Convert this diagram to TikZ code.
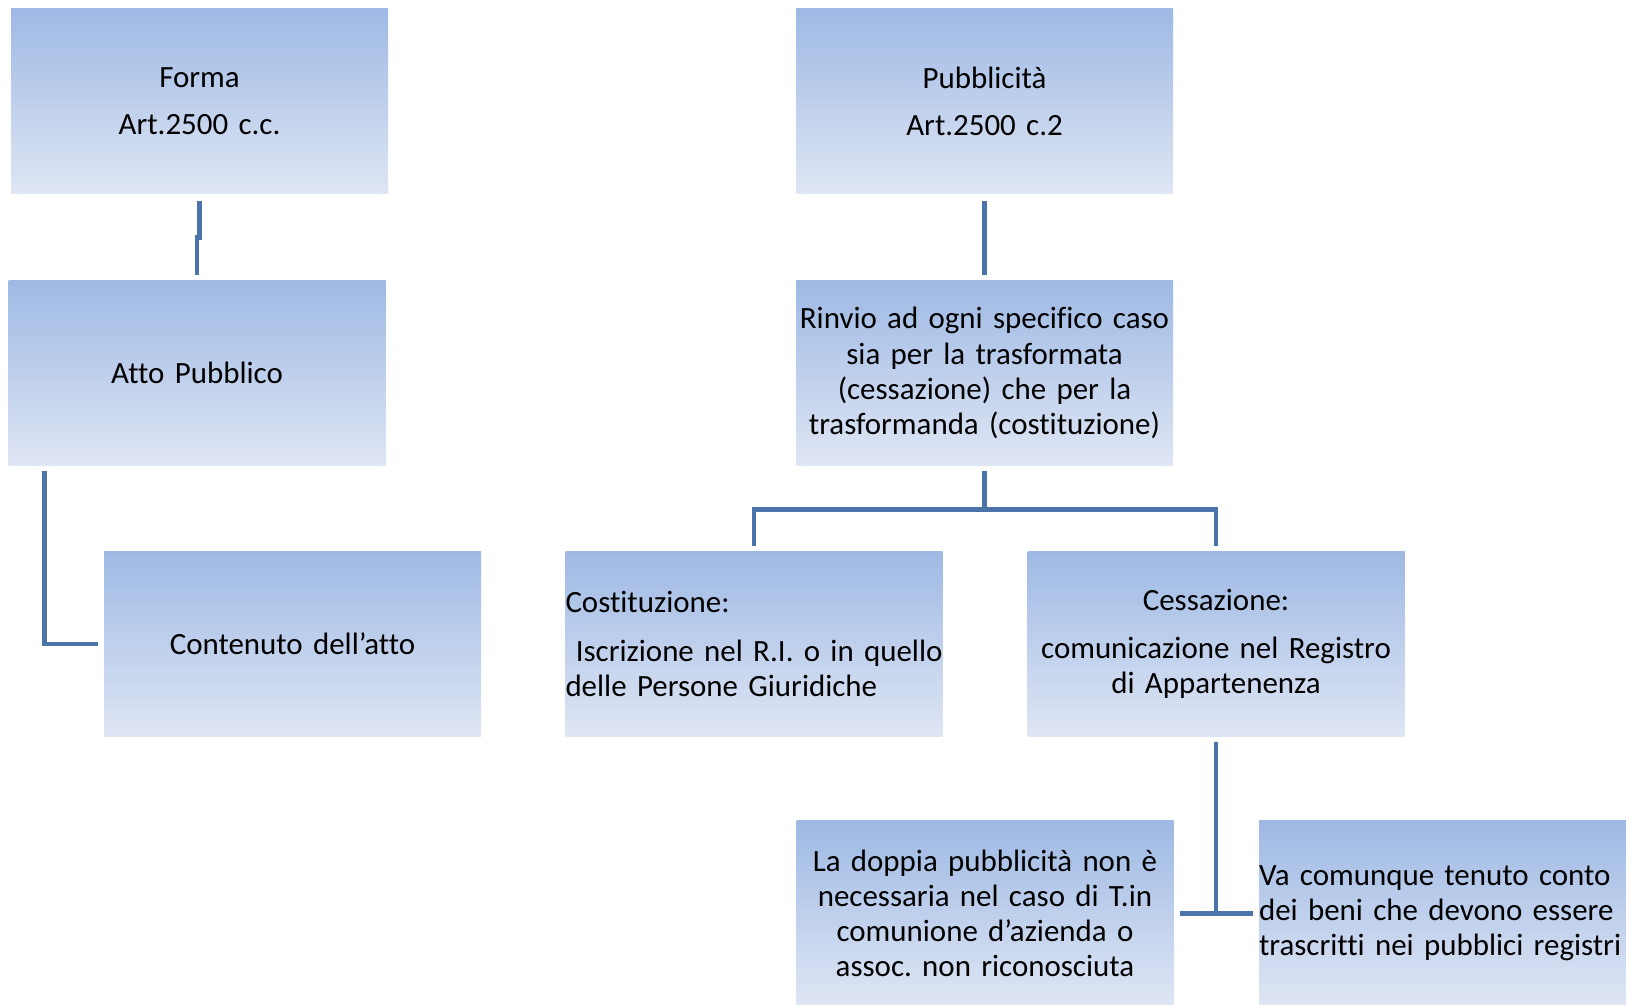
\documentclass[tikz,border=0pt]{standalone}
\usepackage{fontspec}
\setmainfont{Carlito}[Ligatures = NoCommon , RawFeature = {-calt}]
\usepackage{tikz}
\definecolor{boxtop}{RGB}{158,185,228}
\definecolor{boxbot}{RGB}{223,230,244}
\definecolor{linea}{RGB}{74,116,170}
\frenchspacing

\begin{document}
\begin{tikzpicture}[x = 0.1mm , y = -0.1mm ,
    box/.style = {top color = boxtop , bottom color = boxbot , inner xsep = 0pt , inner ysep = 0pt ,
        text width = 37.7mm , minimum height = 18.5mm , align = center , font = \fontsize{8.8}{10}\selectfont} ,
    conn/.style = {draw = linea , line width = 1.4pt}]
    \fill[white] (0,0) rectangle (1626,1005);
    \useasboundingbox (0,0) rectangle (1626,1005);

    % colonna sinistra
    \node[box] (forma) at (199.5,101.5) {Forma\\[3.4pt]Art.2500 c.c.};
    \node[box] (atto) at (197,373) {Atto Pubblico};
    \node[box] (contenuto) at (292.5,644) {Contenuto dell’atto};

    % colonna destra
    \node[box] (pubb) at (984.5,101.5) {Pubblicità\\[3.4pt]Art.2500 c.2};
    \node[box] (rinvio) at (984.5,373) {Rinvio ad ogni specifico caso\\sia per la trasformata\\(cessazione) che per la\\trasformanda (costituzione)};
    \node[box , align = left] (costit) at (754,644) {Costituzione:\\[3.8pt]\mbox{\ Iscrizione nel R.I. o in quello}\\delle Persone Giuridiche};
    \node[box] (cessaz) at (1216,644) {Cessazione:\\[3.8pt]comunicazione nel Registro\\di Appartenenza};
    \node[box] (doppia) at (985,913.5) {La doppia pubblicità non è\\necessaria nel caso di T.in\\comunione d’azienda o\\assoc. non riconosciuta};
    \node[box , align = left] (va) at (1447.5,913.5) {Va comunque tenuto conto\\dei beni che devono essere\\\mbox{trascritti nei pubblici registri}};

    % connettori
    \draw[conn] ([yshift=-0.6mm]forma.south) -- ++(0,-3.7mm) -| ([yshift=0.5mm]atto.north);
    \draw[conn] ([xshift=3.7mm , yshift=-0.5mm]atto.south west) |- ([xshift=-0.5mm]contenuto.west);
    \draw[conn] ([yshift=-0.6mm]pubb.south) -- ([yshift=0.5mm]rinvio.north);
    \draw[conn] ([yshift=-0.5mm]rinvio.south) -- ++(0,-3.8mm) -| ([yshift=0.5mm]costit.north);
    \draw[conn] ([yshift=-0.5mm]rinvio.south) -- ++(0,-3.8mm) -| ([yshift=0.5mm]cessaz.north);
    \draw[conn] ([yshift=-0.5mm]cessaz.south) -- (cessaz.south |- doppia.east);
    \draw[conn] ([xshift=0.6mm]doppia.east) -- ([xshift=-0.5mm]va.west);
\end{tikzpicture}
\end{document}
